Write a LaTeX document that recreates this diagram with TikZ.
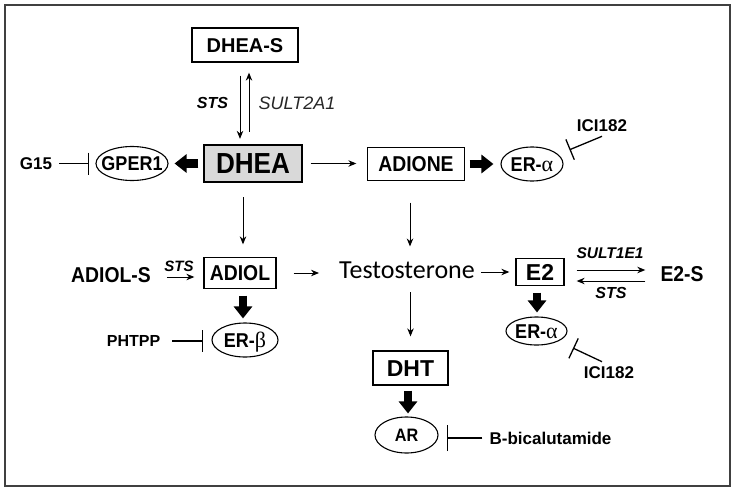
\documentclass[tikz,border=0pt]{standalone}
\usepackage{fontspec}
\setmainfont{Liberation Sans}
\newfontfamily\sqf[FakeStretch=0.9]{Liberation Sans}
\newfontfamily\calib{Carlito}
\newfontfamily\grk{Liberation Serif}
\usetikzlibrary{arrows.meta,shapes.geometric}
\newcommand\fsz[1]{\fontsize{#1}{#1}\selectfont}
\newcommand\galpha{{\grk\mdseries\fontsize{22}{22}\selectfont α}}
\newcommand\gbeta{{\grk\mdseries\fontsize{22}{22}\selectfont β}}
\begin{document}
\begin{tikzpicture}[x=1pt,y=-1pt,
  box/.style={draw, line width=1.3pt, inner sep=0pt, text depth=0pt},
  oval/.style={draw, ellipse, line width=1.1pt, inner xsep=-25pt, inner ysep=0pt, text depth=0pt},
  txt/.style={inner sep=0pt, text depth=0pt},
  arr/.style={line width=1pt, -{Stealth[length=8pt,width=6.5pt]}},
  fat/.style={line width=8.5pt, -{Triangle[length=12pt,width=18pt]}},
  inh/.style={line width=1.3pt, -{Bar[width=22pt]}},
  enz/.style={inner sep=0pt, text depth=0pt, font=\bfseries\itshape}]
\useasboundingbox (0,0) rectangle (735,495);
\draw[line width=2pt, draw=black!75] (5,5) rectangle (730,486);

% boxes
\node[box, minimum width=106pt, minimum height=34pt, text height=14.3pt, font=\fsz{20}\bfseries] (dheas) at (245,45) {DHEA-S};
\node[box, fill=gray!30, minimum width=98pt, minimum height=37pt, text height=20.8pt, font=\fsz{29}\sqf\bfseries] (dhea) at (253,163.5) {DHEA};
\node[box, minimum width=97pt, minimum height=33pt, text height=15.4pt, font=\fsz{21.5}\sqf\bfseries] (adione) at (416,164) {ADIONE};
\node[box, minimum width=72pt, minimum height=31pt, text height=15.4pt, font=\fsz{21.5}\sqf\bfseries] (adiol) at (240,273) {ADIOL};
\node[box, minimum width=48pt, minimum height=27pt, text height=16.5pt, font=\fsz{23}\bfseries] (e2) at (540,272) {E2};
\node[box, minimum width=75pt, minimum height=34pt, text height=16.5pt, font=\fsz{23}\bfseries] (dht) at (410.5,368) {DHT};

% ovals
\node[oval, minimum width=72pt, minimum height=34pt, text height=14.3pt, font=\fsz{20}\sqf\bfseries] (gper1) at (132,163.5) {GPER1};
\node[oval, minimum width=62pt, minimum height=34pt, text height=14.3pt, font=\fsz{20}\sqf\bfseries] (erA1) at (532,164) {ER-\galpha};
\node[oval, minimum width=61pt, minimum height=28pt, text height=14.3pt, font=\fsz{20}\sqf\bfseries] (erA2) at (536.5,331) {ER-\galpha};
\node[oval, minimum width=66pt, minimum height=34pt, text height=14.3pt, font=\fsz{20}\sqf\bfseries] (erB) at (245,340) {ER-\gbeta};
\node[oval, minimum width=63pt, minimum height=36pt, text height=12.9pt, font=\fsz{18}\sqf\bfseries] (ar) at (406.5,435) {AR};

% plain texts
\node[txt, text height=12.2pt, font=\fsz{17}\bfseries] (g15) at (36,163.5) {G15};
\node[txt, text height=12.2pt, font=\fsz{17}\bfseries] (ici1) at (602,125) {ICI182};
\node[txt, text height=12.2pt, font=\fsz{17}\bfseries] (ici2) at (609,372) {ICI182};
\node[txt, text height=15.4pt, font=\fsz{21.5}\sqf\bfseries] (adiols) at (111,275) {ADIOL-S};
\node[txt, text height=16.7pt, font=\fsz{26}\calib] (testo) at (407,270.5) {Testosterone};
\node[txt, text height=15.4pt, font=\fsz{21.5}\sqf\bfseries] (e2s) at (682,274) {E2-S};
\node[txt, text height=11.5pt, font=\fsz{16}\bfseries] (phtpp) at (133.5,341) {PHTPP};
\node[txt, text height=12.2pt, font=\fsz{17}\bfseries] (bbic) at (550.5,438) {B-bicalutamide};

% enzyme labels
\node[enz, text height=11.5pt, font=\fsz{16}\bfseries\itshape] (sts1) at (212.5,103) {STS};
\node[enz, text height=12.9pt, font=\fsz{18}\mdseries\itshape, text=black!85] (sult2a1) at (297,103) {SULT2A1};
\node[enz, text height=10.7pt, font=\fsz{15}\bfseries\itshape] (sts2) at (179,266) {STS};
\node[enz, text height=11.1pt, font=\fsz{15.5}\bfseries\itshape] (sult1e1) at (610,253) {SULT1E1};
\node[enz, text height=11.5pt, font=\fsz{16}\bfseries\itshape] (sts3) at (611,293) {STS};

% DHEA-S <-> DHEA
\draw[arr, shorten <=13pt, shorten >=5.5pt] ([xshift=-5pt]dheas.south) -- ([xshift=-5pt]dheas.south |- dhea.north);
\draw[arr, shorten <=12.5pt, shorten >=10pt] ([xshift=4pt]dheas.south |- dhea.north) -- ([xshift=4pt]dheas.south);

% DHEA => GPER1, G15 -| GPER1
\draw[fat, shorten <=5pt, shorten >=6pt] (dhea.west) -- (dhea.west -| gper1.east);
\draw[inh, shorten <=7pt, shorten >=6pt] (g15.east) -- (g15.east -| gper1.west);

% DHEA -> ADIONE => ER-alpha, ICI182
\draw[arr, shorten <=8pt, shorten >=10.5pt] (dhea.east) -- (dhea.east -| adione.west);
\draw[fat, shorten <=4.5pt, shorten >=7pt] (adione.east) -- (erA1.west);
\draw[inh, shorten >=12pt] ([yshift=-5pt]ici1.south) -- (erA1.20);

% DHEA -> ADIOL, ADIONE -> Testosterone
\draw[arr, shorten <=14.5pt, shorten >=12.5pt] ([xshift=3pt]adiol.north |- dhea.south) -- ([xshift=3pt]adiol.north);
\draw[arr, shorten <=21.5pt, shorten >=15.5pt] ([xshift=-6pt]adione.south) -- ([xshift=-6pt]adione.south |- testo.north);

% ADIOL-S -> ADIOL -> Testosterone -> E2
\draw[arr, shorten <=16pt, shorten >=9pt] ([yshift=-2pt]adiols.east) -- ([yshift=-2pt]adiols.east -| adiol.west);
\draw[arr, shorten <=17pt, shorten >=20pt] (adiol.east) -- (adiol.east -| testo.west);
\draw[arr, shorten <=6pt, shorten >=6pt] (e2.west -| testo.east) -- (e2.west);

% E2 <-> E2-S
\draw[arr, shorten <=12pt, shorten >=15pt] ([yshift=2pt]e2.east) -- ([yshift=2pt]e2.east -| e2s.west);
\draw[arr, shorten <=15pt, shorten >=12pt] ([yshift=-9pt]e2.east -| e2s.west) -- ([yshift=-9pt]e2.east);

% E2 => ER-alpha, ICI182
\draw[fat, shorten <=6.5pt, shorten >=4pt] ([xshift=-3pt]e2.south) -- ([xshift=-3pt]e2.south |- erA2.north);
\draw[inh, shorten >=16pt] ([xshift=-7pt,yshift=4pt]ici2.north) -- (erA2.-25);

% ADIOL => ER-beta, PHTPP
\draw[fat, shorten <=6.5pt, shorten >=4pt] ([xshift=3pt]adiol.south) -- ([xshift=3pt]adiol.south |- erB.north);
\draw[inh, shorten <=12pt, shorten >=8pt] (phtpp.east) -- (phtpp.east -| erB.west);

% Testosterone -> DHT => AR, B-bicalutamide
\draw[arr, shorten <=13pt, shorten >=14pt] (dht.north |- testo.south) -- (dht.north);
\draw[fat, shorten <=5pt, shorten >=3pt] ([xshift=-2.5pt]dht.south) -- ([xshift=-2.5pt]dht.south |- ar.north);
\draw[inh, -{Bar[width=26pt]}, shorten <=7pt, shorten >=8pt] (bbic.west) -- (bbic.west -| ar.east);
\end{tikzpicture}
\end{document}
